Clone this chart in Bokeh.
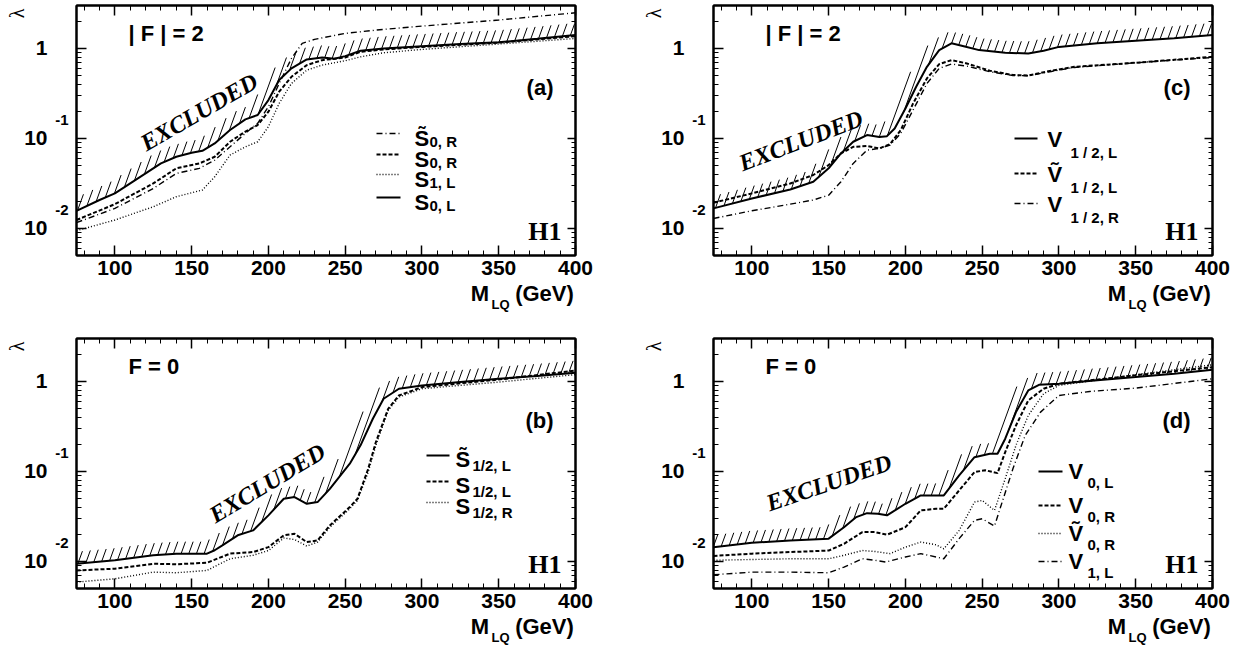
import numpy as np
from bokeh.plotting import figure
from bokeh.models import Range1d, FixedTicker, LinearAxis, LogAxis, Label, Arrow
from bokeh.layouts import column, row
from bokeh.embed import file_html
from bokeh.resources import INLINE

# ------------------------------------------------------------------ data
# panel (a)  |F| = 2 scalars
a_S0L_m = [75, 90, 100, 110, 120, 130, 140, 150, 157, 165, 175, 185, 193, 200, 207, 215, 225, 235, 243, 250, 260, 275, 300, 325, 350, 375, 400]
a_S0L = [0.0157, 0.0207, 0.0245, 0.0316, 0.0408, 0.0527, 0.0625, 0.0693, 0.0729, 0.0879, 0.124, 0.163, 0.182, 0.267, 0.445, 0.600, 0.755, 0.794, 0.767, 0.822, 0.942, 1.00, 1.06, 1.12, 1.17, 1.28, 1.41]
a_S0R_m = [75, 100, 125, 140, 155, 165, 175, 185, 193, 200, 207, 215, 225, 235, 250, 260, 275, 300, 350, 400]
a_S0R = [0.0124, 0.0186, 0.0316, 0.0465, 0.0527, 0.0625, 0.0918, 0.119, 0.141, 0.198, 0.331, 0.484, 0.653, 0.741, 0.794, 0.918, 0.975, 1.04, 1.16, 1.37]
a_tS0R_m = [75, 100, 125, 140, 155, 165, 175, 185, 193, 200, 207, 215, 222, 230, 250, 275, 300, 350, 400]
a_tS0R = [0.0116, 0.0167, 0.0278, 0.0408, 0.0465, 0.0574, 0.0807, 0.114, 0.147, 0.225, 0.408, 0.774, 1.14, 1.26, 1.47, 1.63, 1.77, 2.07, 2.49]
a_S1L_m = [75, 100, 125, 140, 150, 157, 165, 175, 185, 193, 200, 207, 215, 225, 235, 250, 260, 275, 300, 350, 400]
a_S1L = [0.00942, 0.0124, 0.0174, 0.0225, 0.0249, 0.0267, 0.0375, 0.0653, 0.0807, 0.0918, 0.135, 0.245, 0.408, 0.574, 0.653, 0.730, 0.807, 0.895, 0.975, 1.12, 1.29]

# panel (b)  F = 0 scalars
b_tS12L_m = [75, 100, 125, 140, 160, 165, 170, 180, 190, 200, 210, 217, 225, 232, 240, 253, 260, 268, 275, 285, 300, 325, 350, 375, 400]
b_tS12L = [0.00942, 0.0103, 0.0117, 0.0122, 0.0122, 0.0133, 0.0151, 0.0195, 0.0221, 0.0325, 0.0497, 0.0519, 0.0437, 0.0456, 0.0641, 0.122, 0.195, 0.385, 0.642, 0.830, 0.903, 0.984, 1.07, 1.15, 1.25]
b_S12L_m = [75, 100, 125, 140, 160, 175, 190, 200, 210, 217, 225, 232, 240, 253, 258, 265, 270, 278, 285, 300, 350, 400]
b_S12L = [0.00794, 0.0083, 0.00942, 0.0093, 0.00966, 0.0122, 0.0127, 0.0144, 0.0195, 0.0203, 0.0164, 0.0171, 0.0251, 0.0402, 0.0497, 0.107, 0.212, 0.497, 0.698, 0.865, 1.05, 1.32]
b_S12R_m = [75, 100, 125, 140, 160, 175, 190, 200, 210, 217, 225, 232, 240, 253, 258, 265, 270, 278, 285, 300, 350, 400]
b_S12R = [0.00589, 0.00641, 0.0076, 0.00748, 0.00794, 0.0107, 0.0117, 0.0132, 0.0182, 0.0175, 0.0148, 0.0164, 0.0240, 0.0385, 0.0476, 0.0984, 0.195, 0.476, 0.670, 0.830, 0.984, 1.19]

# panel (c)  |F| = 2 vectors
c_V12L_m = [75, 100, 125, 140, 150, 158, 166, 175, 183, 188, 193, 200, 207, 214, 222, 230, 238, 248, 265, 280, 290, 300, 325, 350, 375, 400]
c_V12L = [0.0167, 0.0215, 0.0271, 0.0330, 0.0465, 0.0681, 0.0918, 0.109, 0.104, 0.106, 0.129, 0.215, 0.375, 0.625, 0.958, 1.14, 1.06, 0.958, 0.895, 0.879, 0.942, 1.04, 1.14, 1.22, 1.30, 1.41]
c_tV12L_m = [75, 100, 125, 140, 150, 158, 166, 175, 183, 190, 197, 205, 214, 222, 230, 240, 255, 270, 280, 295, 310, 350, 400]
c_tV12L = [0.0193, 0.0245, 0.0316, 0.0392, 0.0506, 0.0681, 0.0807, 0.0822, 0.0774, 0.0865, 0.124, 0.245, 0.464, 0.670, 0.741, 0.681, 0.565, 0.506, 0.501, 0.565, 0.625, 0.693, 0.807]
c_V12R_m = [75, 100, 125, 140, 150, 158, 166, 175, 183, 190, 197, 205, 214, 222, 230, 240, 255, 270, 280, 295, 310, 350, 400]
c_V12R = [0.0129, 0.0157, 0.0186, 0.0207, 0.0234, 0.0330, 0.0527, 0.0741, 0.0774, 0.0843, 0.114, 0.207, 0.408, 0.600, 0.670, 0.637, 0.551, 0.501, 0.497, 0.555, 0.615, 0.693, 0.794]

# panel (d)  F = 0 vectors
d_V0L_m = [75, 100, 125, 150, 160, 168, 175, 182, 188, 200, 210, 220, 225, 235, 245, 255, 260, 265, 272, 280, 287, 300, 325, 350, 375, 400]
d_V0L = [0.0144, 0.0161, 0.0171, 0.0179, 0.0240, 0.0311, 0.0344, 0.0339, 0.0325, 0.0437, 0.0541, 0.0541, 0.0541, 0.0903, 0.144, 0.157, 0.157, 0.231, 0.456, 0.794, 0.918, 0.942, 1.03, 1.12, 1.22, 1.35]
d_V0R_m = [75, 100, 125, 150, 160, 172, 180, 188, 200, 210, 220, 225, 235, 245, 252, 260, 265, 272, 280, 290, 300, 350, 400]
d_V0R = [0.0115, 0.0122, 0.0127, 0.0132, 0.0157, 0.0212, 0.0212, 0.0198, 0.0240, 0.0369, 0.0385, 0.0385, 0.0615, 0.0984, 0.103, 0.0958, 0.164, 0.324, 0.615, 0.830, 0.942, 1.17, 1.44]
d_tV0R_m = [75, 100, 125, 150, 160, 172, 180, 190, 200, 210, 220, 225, 235, 245, 250, 258, 265, 272, 280, 290, 300, 350, 400]
d_tV0R = [0.0103, 0.0105, 0.0107, 0.0107, 0.0117, 0.0132, 0.0129, 0.0122, 0.0144, 0.0164, 0.0153, 0.0138, 0.0221, 0.0456, 0.0476, 0.0369, 0.0830, 0.195, 0.419, 0.730, 0.903, 1.19, 1.53]
d_V1L_m = [75, 100, 125, 150, 160, 172, 180, 187, 200, 210, 220, 225, 235, 245, 250, 258, 263, 270, 278, 288, 300, 320, 350, 400]
d_V1L = [0.00711, 0.0076, 0.0076, 0.00748, 0.00865, 0.0107, 0.0103, 0.00984, 0.0112, 0.0122, 0.0112, 0.0107, 0.0179, 0.0286, 0.0298, 0.0247, 0.0456, 0.107, 0.251, 0.456, 0.698, 0.774, 0.843, 1.07]

x_ticks = [100, 150, 200, 250, 300, 350, 400]
y_ticks = [0.01, 0.1, 1]
y_tick_labels = {0.01: "10", 0.1: "10", 1: "1"}
y_tick_exponents = {0.01: "-2", 0.1: "-1"}

# ------------------------------------------------------------------ geometry / styles
X0, X1 = 75, 400
Y0, Y1 = 0.005, 3.0
FW, FH = 499, 250
LY0, LY1 = np.log10(Y0), np.log10(Y1)
SANS = "Liberation Sans"
SERIF = "Liberation Serif"

STY = {
    "solid": dict(line_dash="solid", line_width=2.0),
    "dash": dict(line_dash="4 2", line_width=2.0),
    "dot": dict(line_dash="1 2", line_width=1.4),
    "dashdot": dict(line_dash="6 3 1 3", line_width=1.4),
}


def x_at(px):          # frame pixel (from left) -> data x
    return float(X0 + px / FW * (X1 - X0))


def y_shift(v, px):    # data y moved up by px screen pixels (log scale)
    return float(10 ** (np.log10(v) + px / FH * (LY1 - LY0)))


def txt(p, text, x, ytop, size, font=SANS, style="bold", align="left", angle=0.0):
    """x, ytop: start of the text baseline, in px from the frame's left / top."""
    k = 0.42 * size
    ax_ = x - k * np.sin(angle)
    ay_ = ytop - k * np.cos(angle)
    p.add_layout(Label(x=float(ax_), y=float(FH - ay_), x_units="screen", y_units="screen",
                       text=text, text_font=font, text_font_size=f"{size}px",
                       text_font_style=style, text_align=align,
                       text_baseline="middle", angle=float(angle), text_color="black"))


def hatch_lines(xs, ys, w=12.0, ang=70.0, gap=7.2):
    sx = (np.asarray(xs, float) - X0) / (X1 - X0) * FW
    sy = (np.log10(np.asarray(ys, float)) - LY0) / (LY1 - LY0) * FH
    P = np.column_stack([sx, sy])
    t = np.gradient(P, axis=0)
    t /= np.linalg.norm(t, axis=1)[:, None]
    n = np.column_stack([-t[:, 1], t[:, 0]])
    Q = P + w * n
    poly = np.vstack([P, Q[::-1]])
    a = np.radians(ang)
    d = np.array([np.cos(a), np.sin(a)])
    nr = np.array([-np.sin(a), np.cos(a)])
    c = poly @ nr
    tt = poly @ d
    m = len(poly)
    out_x, out_y = [], []
    for k in np.arange(np.floor(c.min() / gap), np.ceil(c.max() / gap) + 1):
        ck = k * gap
        hits = []
        for i in range(m):
            j = (i + 1) % m
            c1, c2 = c[i], c[j]
            if (c1 - ck) * (c2 - ck) < 0:
                f = (ck - c1) / (c2 - c1)
                hits.append(tt[i] + f * (tt[j] - tt[i]))
        hits.sort()
        for h0, h1 in zip(hits[0::2], hits[1::2]):
            pts = np.array([ck * nr + h0 * d, ck * nr + h1 * d])
            gx = X0 + pts[:, 0] / FW * (X1 - X0)
            gy = 10 ** (LY0 + pts[:, 1] / FH * (LY1 - LY0))
            out_x.append([float(v) for v in gx])
            out_y.append([float(v) for v in gy])
    return out_x, out_y


def ticks_only(ax, ticker, maj, mnr):
    ax.ticker = ticker
    ax.axis_line_width = 2
    ax.axis_line_color = "black"
    ax.major_tick_in = maj
    ax.major_tick_out = 0
    ax.minor_tick_in = mnr
    ax.minor_tick_out = 0
    ax.major_tick_line_width = 1.5
    ax.minor_tick_line_width = 1
    ax.major_tick_line_color = "black"
    ax.minor_tick_line_color = "black"
    ax.major_label_text_font_size = "1px"
    ax.major_label_text_alpha = 0
    ax.major_label_standoff = 0


def labels_only(ax, ticks, overrides, size, standoff, font=SANS, style="bold",
                orientation="horizontal"):
    ax.ticker = FixedTicker(ticks=ticks, minor_ticks=[])
    ax.major_label_overrides = overrides
    ax.axis_line_color = None
    ax.major_tick_line_color = None
    ax.minor_tick_line_color = None
    ax.major_tick_in = 0
    ax.major_tick_out = 0
    ax.minor_tick_in = 0
    ax.minor_tick_out = 0
    ax.major_label_standoff = standoff
    ax.major_label_text_font = font
    ax.major_label_text_font_style = style
    ax.major_label_text_font_size = f"{size}px"
    ax.major_label_text_color = "black"
    ax.major_label_orientation = orientation


def make_panel(left, right, top, bottom, series, hatched, texts, legend, excl):
    p = figure(frame_width=FW, frame_height=FH, x_range=Range1d(X0, X1),
               y_range=Range1d(Y0, Y1), y_axis_type="log", output_backend="svg",
               toolbar_location=None, min_border_left=left, min_border_right=right,
               min_border_top=top, min_border_bottom=bottom)
    p.grid.visible = False
    p.outline_line_color = "black"
    p.outline_line_width = 2
    xt = FixedTicker(ticks=x_ticks, minor_ticks=[v for v in range(80, 400, 10) if v not in x_ticks])
    minor_y = [k * 10.0 ** e for e in (-3, -2, -1, 0) for k in range(2, 10)]
    yt = FixedTicker(ticks=y_ticks, minor_ticks=[v for v in minor_y if Y0 <= v <= Y1])

    # bottom: ticks + numbers, then "M (GeV)", then subscript "LQ"
    xa = p.xaxis[0]
    ticks_only(xa, xt, 10, 5)
    xa.major_label_text_font = SANS
    xa.major_label_text_font_style = "bold"
    xa.major_label_text_font_size = "21px"
    xa.major_label_text_alpha = 1
    xa.major_label_text_color = "black"
    xa.major_label_standoff = 5
    xm, xg, xl = x_at(403.5), x_at(468), x_at(424)
    ax_f = LinearAxis()
    labels_only(ax_f, [xm, xg], {xm: "M", xg: "(GeV)"}, 22, 3)
    p.add_layout(ax_f, "below")
    ax_g = LinearAxis()
    labels_only(ax_g, [xl], {xl: "LQ"}, 13, -12)
    p.add_layout(ax_g, "below")

    # left: ticks, exponents, mantissas, lambda
    ya = p.yaxis[0]
    ticks_only(ya, yt, 10, 5)
    exp_pos = {y_shift(v, 18): e for v, e in y_tick_exponents.items()}
    ax_b = LogAxis()
    labels_only(ax_b, list(exp_pos), exp_pos, 15, 8)
    p.add_layout(ax_b, "left")
    ax_c = LogAxis()
    labels_only(ax_c, y_ticks, y_tick_labels, 21, 5)
    p.add_layout(ax_c, "left")
    lam = y_shift(Y1, -8)
    ax_d = LogAxis()
    labels_only(ax_d, [lam], {lam: "λ"}, 20, -6, font=SERIF, style="normal",
                orientation="parallel")
    p.add_layout(ax_d, "left")

    top_ax = LinearAxis()
    ticks_only(top_ax, xt, 10, 5)
    p.add_layout(top_ax, "above")
    right_ax = LogAxis()
    ticks_only(right_ax, yt, 8, 4)
    p.add_layout(right_ax, "right")

    # hatching of the excluded side of the limit curve
    hx, hy = hatch_lines(*hatched)
    p.multi_line(hx, hy, line_color="black", line_width=1)

    for m, lam_v, st in series:
        p.line(m, lam_v, line_color="black", **STY[st])

    # in-frame texts
    for t, x, yt_, size, font, align in texts:
        txt(p, t, x, yt_, size, font=font, align=align)
    ex_x, ex_y, ex_ang = excl
    txt(p, "EXCLUDED", ex_x, ex_y, 24, font=SERIF, style="bold italic",
        angle=float(np.radians(ex_ang)))

    # legend
    lx0, lx1, tx, sx, dl, ds, entries = legend
    for ly, st, letter, sub in entries:
        p.add_layout(Arrow(end=None, x_start=lx0, y_start=FH - ly, x_end=lx1,
                           y_end=FH - ly, start_units="screen", end_units="screen",
                           line_color="black", **STY[st]))
        txt(p, letter, tx, ly + dl, 22)
        txt(p, sub, sx, ly + ds, 15)
    return p


def panel_texts(flavour, tag):
    return [(flavour, 52, 37, 22, SANS, "left"),
            (tag, FW - 22, 91, 22, SANS, "right"),
            ("H1", FW - 14, FH - 13, 26, SERIF, "right")]


pa = make_panel(
    76, 55, 5, 78,
    [(a_tS0R_m, a_tS0R, "dashdot"), (a_S0R_m, a_S0R, "dash"),
     (a_S1L_m, a_S1L, "dot"), (a_S0L_m, a_S0L, "solid")],
    (a_S0L_m, a_S0L),
    panel_texts("| F | = 2", "(a)"),
    (300, 324, 338, 353, 14, 14,
     [(128, "dashdot", "S\u0303", "0, R"), (149, "dash", "S", "0, R"),
      (169, "dot", "S", "1, L"), (192, "solid", "S", "0, L")]),
    (71, 148, 30))

pc = make_panel(
    83, 28, 5, 78,
    [(c_V12R_m, c_V12R, "dashdot"), (c_tV12L_m, c_tV12L, "dash"),
     (c_V12L_m, c_V12L, "solid")],
    (c_V12L_m, c_V12L),
    panel_texts("| F | = 2", "(c)"),
    (301, 324, 334, 357, 10, 20,
     [(133, "solid", "V", "1 / 2, L"), (168, "dash", "V\u0303", "1 / 2, L"),
      (198, "dashdot", "V", "1 / 2, R")]),
    (30, 168, 21))

pb = make_panel(
    76, 55, 5, 61,
    [(b_S12R_m, b_S12R, "dot"), (b_S12L_m, b_S12L, "dash"),
     (b_tS12L_m, b_tS12L, "solid")],
    (b_tS12L_m, b_tS12L),
    panel_texts("F = 0", "(b)"),
    (350, 373, 379, 396, 13, 16,
     [(117, "solid", "S\u0303", "1/2, L"), (143, "dash", "S", "1/2, L"),
      (164, "dot", "S", "1/2, R")]),
    (140, 187, 31))

pd = make_panel(
    83, 28, 5, 61,
    [(d_V1L_m, d_V1L, "dashdot"), (d_tV0R_m, d_tV0R, "dot"),
     (d_V0R_m, d_V0R, "dash"), (d_V0L_m, d_V0L, "solid")],
    (d_V0L_m, d_V0L),
    panel_texts("F = 0", "(d)"),
    (325, 349, 355, 374, 9, 17,
     [(133, "solid", "V", "0, L"), (167, "dash", "V", "0, R"),
      (195, "dot", "V\u0303", "0, R"), (223, "dashdot", "V", "1, L")]),
    (57, 175, 19))

layout = column(row(pa, pc), row(pb, pd))
open("out.html", "w").write(file_html(layout, INLINE))
